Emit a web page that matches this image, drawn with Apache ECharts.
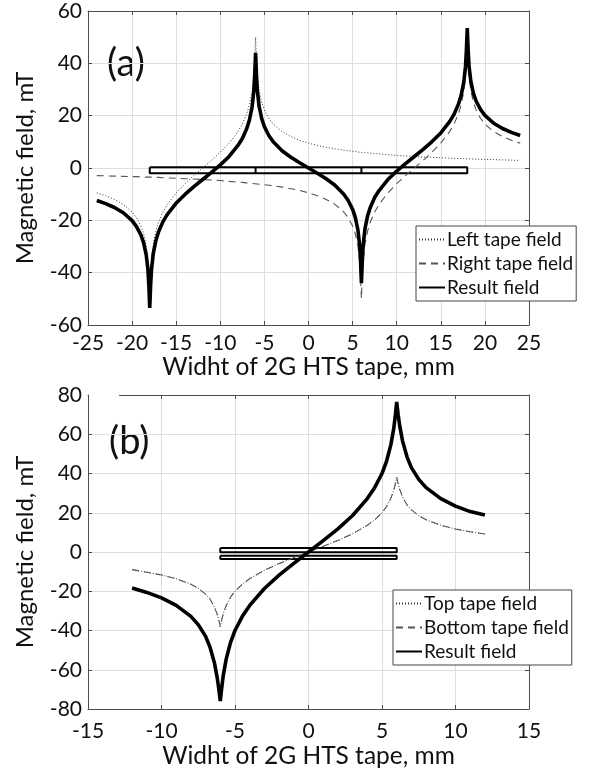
<!DOCTYPE html>
<html>
<head>
<meta charset="utf-8">
<script src="https://cdn.jsdelivr.net/npm/echarts@6/dist/echarts.min.js"></script>
<style>
html,body{margin:0;padding:0;background:#fff;}
#chart{width:590px;height:774px;}
</style>
</head>
<body>
<div id="chart"></div>
<script>
// ---------- DATA ----------
// Panel (a): position across two 2G HTS tapes, mm
const xTop = [-24,-23,-22,-21,-20,-19.5,-19,-18.7,-18.4,-18.2,-18.1,-18,-17.9,-17.8,-17.6,-17.3,-17,-16.5,-16,-15,-14,-13,-12,-11,-10,-9,-8,-7.5,-7,-6.7,-6.4,-6.2,-6.1,-6,-5.9,-5.8,-5.6,-5.3,-5,-4.5,-4,-3,-2,-1,0,1,2,3,4,4.5,5,5.3,5.6,5.8,5.9,6,6.1,6.2,6.4,6.7,7,7.5,8,9,10,11,12,13,14,15,16,16.5,17,17.3,17.6,17.8,17.9,18,18.1,18.2,18.4,18.7,19,19.5,20,21,22,23,24];
const leftTapeField = [-9.5,-10.6,-12.0,-13.9,-16.8,-19.0,-22.2,-25.1,-29.7,-35.6,-41.5,-50.0,-41.3,-35.3,-29.1,-24.1,-20.7,-16.8,-13.9,-9.5,-6.0,-2.9,0,2.9,6.0,9.5,13.9,16.8,20.7,24.1,29.1,35.3,41.3,50.0,41.5,35.6,29.7,25.1,22.2,19.0,16.8,13.9,12.0,10.6,9.5,8.6,7.9,7.3,6.8,6.6,6.4,6.3,6.1,6.1,6.0,6.0,6.0,5.9,5.9,5.8,5.7,5.5,5.4,5.1,4.8,4.6,4.4,4.2,4.1,3.9,3.8,3.7,3.6,3.6,3.6,3.5,3.5,3.5,3.5,3.5,3.5,3.4,3.4,3.3,3.3,3.2,3.1,3.0,2.9];
const rightTapeField = [-2.9,-3.0,-3.1,-3.2,-3.3,-3.3,-3.4,-3.4,-3.5,-3.5,-3.5,-3.5,-3.5,-3.5,-3.6,-3.6,-3.6,-3.7,-3.8,-3.9,-4.1,-4.2,-4.4,-4.6,-4.8,-5.1,-5.4,-5.5,-5.7,-5.8,-5.9,-5.9,-6.0,-6.0,-6.0,-6.1,-6.1,-6.3,-6.4,-6.6,-6.8,-7.3,-7.9,-8.6,-9.5,-10.6,-12.0,-13.9,-16.8,-19.0,-22.2,-25.1,-29.7,-35.6,-41.5,-50.0,-41.3,-35.3,-29.1,-24.1,-20.7,-16.8,-13.9,-9.5,-6.0,-2.9,0,2.9,6.0,9.5,13.9,16.8,20.7,24.1,29.1,35.3,41.3,50.0,41.5,35.6,29.7,25.1,22.2,19.0,16.8,13.9,12.0,10.6,9.5];
const resultFieldA = [-12.4,-13.6,-15.1,-17.1,-20.1,-22.4,-25.6,-28.5,-33.2,-39.0,-45.0,-53.5,-44.9,-38.8,-32.7,-27.7,-24.4,-20.5,-17.7,-13.4,-10.1,-7.1,-4.4,-1.7,1.2,4.4,8.6,11.3,15.1,18.3,23.3,29.4,35.4,44.0,35.5,29.5,23.6,18.8,15.8,12.4,10.0,6.6,4.1,2.0,0,-2.0,-4.1,-6.6,-10.0,-12.4,-15.8,-18.8,-23.6,-29.5,-35.5,-44.0,-35.4,-29.4,-23.3,-18.3,-15.1,-11.3,-8.6,-4.4,-1.2,1.7,4.4,7.1,10.1,13.4,17.7,20.5,24.4,27.7,32.7,38.8,44.9,53.5,45.0,39.0,33.2,28.5,25.6,22.4,20.1,17.1,15.1,13.6,12.4];
// Panel (a): tape cross-section sketch (mm, mT units)
const tapeA_x = [-18, 18];
const tapeA_y = [0.3, -2.0];
const tapeA_dividers = [-6, 6];

// Panel (b): position across two stacked tapes, mm
const xBot = [-12,-11,-10,-9,-8,-7.5,-7,-6.7,-6.4,-6.2,-6.1,-6,-5.9,-5.8,-5.6,-5.3,-5,-4.5,-4,-3,-2,-1,0,1,2,3,4,4.5,5,5.3,5.6,5.8,5.9,6,6.1,6.2,6.4,6.7,7,7.5,8,9,10,11,12];
const topTapeField = [-9.0,-10.3,-11.7,-13.6,-16.4,-18.5,-21.5,-24.0,-28.0,-32.0,-34.8,-38.0,-34.5,-31.5,-27.3,-23.0,-20.0,-16.4,-13.6,-9.3,-5.9,-2.9,0,2.9,5.9,9.3,13.6,16.4,20.0,23.0,27.3,31.5,34.5,38.0,34.8,32.0,28.0,24.0,21.5,18.5,16.4,13.6,11.7,10.3,9.2];
const bottomTapeField = [-9.0,-10.3,-11.7,-13.6,-16.4,-18.5,-21.5,-24.0,-28.0,-32.0,-34.8,-38.0,-34.5,-31.5,-27.3,-23.0,-20.0,-16.4,-13.6,-9.3,-5.9,-2.9,0,2.9,5.9,9.3,13.6,16.4,20.0,23.0,27.3,31.5,34.5,38.0,34.8,32.0,28.0,24.0,21.5,18.5,16.4,13.6,11.7,10.3,9.2];
const resultFieldB = [-18.3,-20.6,-23.4,-27.2,-32.8,-37.0,-43.0,-48.5,-56.5,-64.5,-70.0,-76.0,-69.0,-63.0,-54.6,-46.0,-40.0,-32.8,-27.2,-18.6,-11.8,-5.8,0,5.8,11.8,18.6,27.2,32.8,40.0,46.0,54.6,63.0,69.0,76.5,70.0,64.5,56.5,48.5,43.0,37.0,32.8,27.2,23.4,20.6,18.8];
// Panel (b): two stacked tapes
const tapeB_x = [-6, 6];
const tapeB_y1 = [2.0, -0.15];
const tapeB_y2 = [-1.9, -3.6];

// Axis tick settings
const axisA = {xmin:-25, xmax:25, xstep:5, ymin:-60, ymax:60, ystep:20};
const axisB = {xmin:-15, xmax:15, xstep:5, ymin:-80, ymax:80, ystep:20};

const seriesNamesA = ['Left tape field','Right tape field','Result field'];
const seriesNamesB = ['Top tape field','Bottom tape field','Result field'];
const xTitle = 'Widht of 2G HTS tape, mm';
const yTitle = 'Magnetic field, mT';

// ---------- CHART ----------
const FONT = 'Lato';
const pairs = (xs, ys) => xs.map((x, i) => [x, ys[i]]);
const rect = (xr, yr) => [[xr[0], yr[0]], [xr[1], yr[0]], [xr[1], yr[1]], [xr[0], yr[1]], [xr[0], yr[0]]];

const axisLineC = '#4d4d4d';
const gridC = '#dedede';

function xAxes(gi, ax, labelMargin, nameGap) {
  return [
    {type:'value', gridIndex:gi, position:'bottom', min:ax.xmin, max:ax.xmax, interval:ax.xstep,
     name:xTitle, nameLocation:'middle', nameGap:nameGap,
     nameTextStyle:{fontFamily:FONT, fontSize:24.5, color:'#111'},
     axisLine:{show:true, onZero:false, lineStyle:{color:axisLineC, width:1}},
     axisTick:{show:true, inside:true, length:4, lineStyle:{color:axisLineC}},
     axisLabel:{fontFamily:FONT, fontSize:21, color:'#111', margin:labelMargin},
     splitLine:{show:true, lineStyle:{color:gridC, width:1}}},
    {type:'value', gridIndex:gi, position:'top', min:ax.xmin, max:ax.xmax, interval:ax.xstep,
     axisLine:{show:true, onZero:false, lineStyle:{color:axisLineC, width:1}},
     axisTick:{show:true, inside:true, length:4, lineStyle:{color:axisLineC}},
     axisLabel:{show:false}, splitLine:{show:false}}
  ];
}
function yAxes(gi, ax) {
  return [
    {type:'value', gridIndex:gi, position:'left', min:ax.ymin, max:ax.ymax, interval:ax.ystep,
     name:yTitle, nameLocation:'middle', nameGap:51, nameRotate:90,
     nameTextStyle:{fontFamily:FONT, fontSize:24, color:'#111'},
     axisLine:{show:true, onZero:false, lineStyle:{color:axisLineC, width:1}},
     axisTick:{show:true, inside:true, length:4, lineStyle:{color:axisLineC}},
     axisLabel:{fontFamily:FONT, fontSize:21, color:'#111', margin:6},
     splitLine:{show:true, lineStyle:{color:gridC, width:1}}},
    {type:'value', gridIndex:gi, position:'right', min:ax.ymin, max:ax.ymax, interval:ax.ystep,
     axisLine:{show:true, onZero:false, lineStyle:{color:axisLineC, width:1}},
     axisTick:{show:true, inside:true, length:4, lineStyle:{color:axisLineC}},
     axisLabel:{show:false}, splitLine:{show:false}}
  ];
}

const dotted = {color:'#333', width:1, type:[1,2]};
const dashed = {color:'#555', width:1.1, type:[7,5]};
const thick = {color:'#000', width:3.6, type:'solid'};
const outline = {color:'#000', width:2, type:'solid'};

function line(name, xi, yi, data, ls, z) {
  return {type:'line', name, xAxisIndex:xi, yAxisIndex:yi, data, showSymbol:false, symbol:'none',
          lineStyle:ls, itemStyle:{color:ls.color}, z:z||2, silent:true, animation:false, clip:true};
}

const series = [
  line('tapeA', 0, 0, rect(tapeA_x, tapeA_y), outline, 1),
  line('tapeA_d1', 0, 0, [[tapeA_dividers[0], tapeA_y[0]], [tapeA_dividers[0], tapeA_y[1]]], outline, 1),
  line('tapeA_d2', 0, 0, [[tapeA_dividers[1], tapeA_y[0]], [tapeA_dividers[1], tapeA_y[1]]], outline, 1),
  line(seriesNamesA[0], 0, 0, pairs(xTop, leftTapeField), dotted, 3),
  line(seriesNamesA[1], 0, 0, pairs(xTop, rightTapeField), dashed, 3),
  line(seriesNamesA[2], 0, 0, pairs(xTop, resultFieldA), thick, 4),

  line('tapeB1', 2, 2, rect(tapeB_x, tapeB_y1), outline, 1),
  line('tapeB2', 2, 2, rect(tapeB_x, tapeB_y2), outline, 1),
  line(seriesNamesB[0], 2, 2, pairs(xBot, topTapeField), dotted, 3),
  line(seriesNamesB[1], 2, 2, pairs(xBot, bottomTapeField), dashed, 3),
  line(seriesNamesB[2] + ' ', 2, 2, pairs(xBot, resultFieldB), thick, 4),
];

const legendBase = {
  orient:'vertical', itemWidth:26, itemHeight:14, itemGap:5,
  backgroundColor:'#fff', borderColor:'#444', borderWidth:1, borderRadius:0,
  padding:[4,3,4,2], selectedMode:false,
  itemStyle:{color:'rgba(0,0,0,0)', borderWidth:0, opacity:0},
  textStyle:{fontFamily:FONT, fontSize:19, color:'#111', padding:[0,0,0,-3]},
};

const option = {
  animation:false,
  backgroundColor:'#fff',
  grid:[
    {left:88, top:11, width:441, height:314, show:false},
    {left:88, top:395, width:441, height:314, show:false}
  ],
  xAxis:[...xAxes(0, axisA, 8, 29), ...xAxes(1, axisB, 12, 35)],
  yAxis:[...yAxes(0, axisA), ...yAxes(1, axisB)],
  legend:[
    Object.assign({}, legendBase, {left:416, top:226, data:seriesNamesA}),
    Object.assign({}, legendBase, {left:393, top:590, data:[seriesNamesB[0], seriesNamesB[1], seriesNamesB[2] + ' '],
      formatter: n => n.trim()})
  ],
  graphic:[
    {type:'text', left:107, top:45, style:{text:'(a)', fontFamily:FONT, fontSize:38, fill:'#111'}},
    {type:'text', left:109, top:423, style:{text:'(b)', fontFamily:FONT, fontSize:38, fill:'#111'}},
    {type:'rect', shape:{x:89, y:392, width:30, height:5}, style:{fill:'#fff'}, z:100}
  ],
  series
};

const chart = echarts.init(document.getElementById('chart'), null, {renderer:'canvas'});
chart.setOption(option);
</script>
</body>
</html>
